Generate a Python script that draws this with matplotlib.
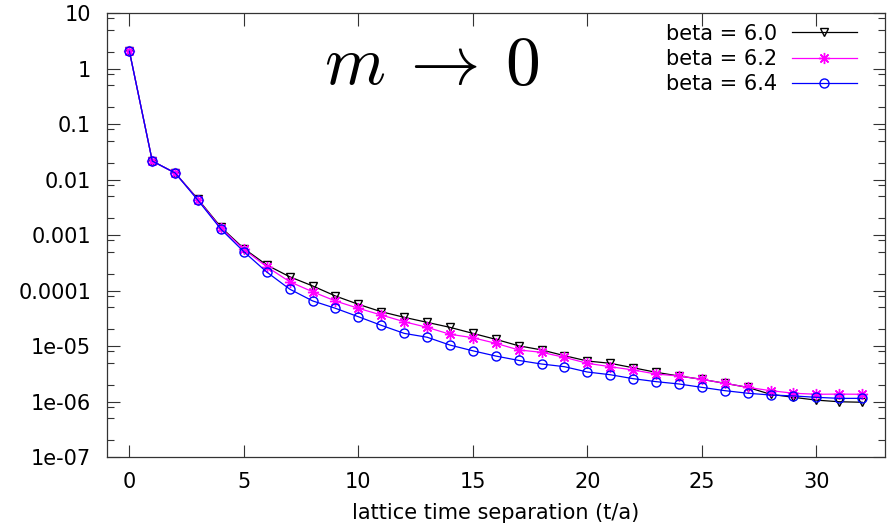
import numpy as np
import matplotlib
matplotlib.use('Agg')
import matplotlib.pyplot as plt
from matplotlib.ticker import LogLocator, FixedLocator, NullFormatter

plt.rcParams['font.family'] = ['DejaVu Sans']
plt.rcParams['mathtext.fontset'] = 'cm'

# 시간 간격 t/a
t = np.arange(0, 33)

# beta = 6.0
beta60 = [2.05, 0.0215, 0.0131, 0.0044, 0.00138, 5.7e-4, 2.88e-4, 1.77e-4, 1.21e-4,
          7.96e-5, 5.64e-5, 4.15e-5, 3.29e-5, 2.67e-5, 2.17e-5, 1.69e-5, 1.32e-5,
          1.01e-5, 8.5e-6, 6.7e-6, 5.37e-6, 4.88e-6, 4.06e-6, 3.36e-6, 2.88e-6,
          2.51e-6, 2.13e-6, 1.8e-6, 1.35e-6, 1.19e-6, 1.06e-6, 9.9e-7, 9.7e-7]
# beta = 6.2
beta62 = [2.05, 0.0215, 0.0131, 0.0043, 0.00133, 5.5e-4, 2.68e-4, 1.44e-4, 9.5e-5,
          6.47e-5, 4.78e-5, 3.62e-5, 2.74e-5, 2.17e-5, 1.63e-5, 1.41e-5, 1.12e-5,
          8.5e-6, 7.7e-6, 6.25e-6, 4.88e-6, 4.24e-6, 3.7e-6, 3.13e-6, 2.88e-6,
          2.51e-6, 2.13e-6, 1.8e-6, 1.57e-6, 1.41e-6, 1.35e-6, 1.36e-6, 1.35e-6]
# beta = 6.4
beta64 = [2.05, 0.0215, 0.0131, 0.0042, 0.00127, 5.0e-4, 2.15e-4, 1.06e-4, 6.5e-5,
          4.78e-5, 3.37e-5, 2.36e-5, 1.69e-5, 1.44e-5, 1.04e-5, 8.2e-6, 6.6e-6,
          5.5e-6, 4.74e-6, 4.24e-6, 3.4e-6, 3.04e-6, 2.58e-6, 2.28e-6, 2.07e-6,
          1.8e-6, 1.57e-6, 1.41e-6, 1.31e-6, 1.26e-6, 1.19e-6, 1.14e-6, 1.14e-6]

ytick_vals = [1e1, 1e0, 1e-1, 1e-2, 1e-3, 1e-4, 1e-5, 1e-6, 1e-7]
ytick_labels = ['10', '1', '0.1', '0.01', '0.001', '0.0001', '1e-05', '1e-06', '1e-07']

fig = plt.figure(figsize=(8.89, 5.27), dpi=100)
ax = fig.add_axes([0.1198, 0.1328, 0.8757, 0.8425])

ax.plot(t, beta60, color='black', lw=0.9, marker='v', ms=6, mfc='none', mec='black',
        mew=1.0, label='beta = 6.0')
ax.plot(t, beta62, color='magenta', lw=0.9, marker=(8, 2, 0), ms=8, mec='magenta',
        mew=1.0, label='beta = 6.2')
ax.plot(t, beta64, color='blue', lw=0.9, marker='o', ms=6.5, mfc='none', mec='blue',
        mew=1.0, label='beta = 6.4')

ax.set_yscale('log')
ax.set_ylim(1e-7, 10)
ax.set_xlim(-1, 33)
ax.set_xticks([0, 5, 10, 15, 20, 25, 30])
ax.yaxis.set_major_locator(FixedLocator(ytick_vals))
ax.set_yticklabels(ytick_labels)
ax.yaxis.set_minor_locator(LogLocator(base=10, subs=(2, 5, 8), numticks=20))
ax.yaxis.set_minor_formatter(NullFormatter())

ax.tick_params(which='major', direction='in', length=9, width=0.8, top=True, right=True,
               labelsize=15, color='#333333')
ax.tick_params(axis='x', which='major', pad=11)
ax.tick_params(axis='y', which='major', pad=11)
ax.tick_params(which='minor', direction='in', length=5, width=0.8, right=True,
               color='#333333')
for s in ax.spines.values():
    s.set_linewidth(0.9)
    s.set_color('#333333')

ax.set_xlabel('lattice time separation (t/a)', fontsize=15, labelpad=8)

ax.text(0.4175, 0.885, r'$m\:\rightarrow\:0$', transform=ax.transAxes, fontsize=50,
        ha='center', va='center')

leg = ax.legend(loc='upper right', frameon=False, markerfirst=False, fontsize=15,
                handlelength=3.1, handletextpad=0.7, labelspacing=0.25,
                bbox_to_anchor=(0.9824, 1.009), borderaxespad=0.3)

fig.savefig('out.png', dpi=100)
